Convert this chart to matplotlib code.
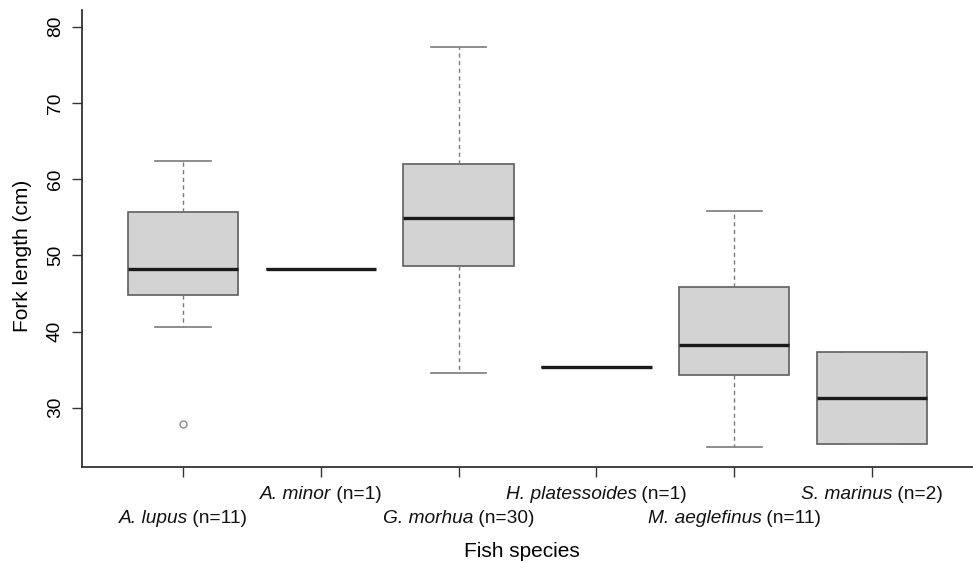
import matplotlib
matplotlib.use("Agg")
import matplotlib.pyplot as plt
from matplotlib.transforms import blended_transform_factory, offset_copy

plt.rcParams['font.family'] = ['Liberation Sans', 'DejaVu Sans']

species = ["A. lupus", "A. minor", "G. morhua", "H. platessoides", "M. aeglefinus", "S. marinus"]
counts = [11, 1, 30, 1, 11, 2]
whislo = [40.6, 48.2, 34.6, 35.3, 24.85, 25.3]
q1 = [44.85, 48.2, 48.65, 35.3, 34.35, 25.3]
med = [48.25, 48.2, 54.9, 35.3, 38.3, 31.35]
q3 = [55.7, 48.2, 62.05, 35.3, 45.9, 37.3]
whishi = [62.4, 48.2, 77.35, 35.3, 55.85, 37.3]
fliers = [[27.9], [], [], [], [], []]

stats = []
for i in range(len(species)):
    stats.append(dict(med=med[i], q1=q1[i], q3=q3[i], whislo=whislo[i],
                      whishi=whishi[i], fliers=fliers[i], label=species[i]))

fig = plt.figure(figsize=(9.73, 5.63), dpi=100)
ax = fig.add_axes([82/973, 1-466.7/563, 1-82/973, (466.7-10)/563])

positions = list(range(1, len(species)+1))
ax.bxp(stats, positions=positions, widths=0.8, patch_artist=True,
       boxprops=dict(facecolor='#d3d3d3', edgecolor='#5e5e5e', linewidth=1.2),
       medianprops=dict(color='#1a1a1a', linewidth=2.4, solid_capstyle='butt'),
       whiskerprops=dict(color='#7a7a7a', linewidth=1.0, linestyle=(0, (3, 2.5))),
       capprops=dict(color='#7a7a7a', linewidth=1.2),
       capwidths=0.4,
       flierprops=dict(marker='o', markersize=5, markerfacecolor='none',
                       markeredgecolor='#8a8a8a', markeredgewidth=1.0))

ax.set_xlim(0.267, 6.733)
ax.set_ylim(22.27, 82.2)
ax.spines['top'].set_visible(False)
ax.spines['right'].set_visible(False)
for s in ['left', 'bottom']:
    ax.spines[s].set_color('#333333')
    ax.spines[s].set_linewidth(1.3)

ax.set_yticks([30, 40, 50, 60, 70, 80])
ax.set_yticklabels(['30', '40', '50', '60', '70', '80'], rotation=90, va='center', fontsize=13.8)
ax.tick_params(axis='y', length=7, width=1.0, color='#333333', pad=6)

ax.set_xticks(positions)
ax.set_xticklabels([''] * len(species))
ax.tick_params(axis='x', length=7, width=1.0, color='#333333')

renderer = fig.canvas.get_renderer()
trans = blended_transform_factory(ax.transData, fig.transFigure)
fs = 13.8
for i, (sp, n) in enumerate(zip(species, counts)):
    y_fig = 1 - (518.3 if i % 2 == 0 else 494.3) / 563
    rest = " (n=" + str(n) + ")"
    t1 = ax.text(positions[i], y_fig, sp, transform=trans, ha='left', va='center',
                 fontsize=fs, style='italic', color='#111111')
    t2 = ax.text(positions[i], y_fig, rest, transform=trans, ha='left', va='center',
                 fontsize=fs, color='#111111')
    w1 = t1.get_window_extent(renderer).width - 1.0
    w2 = t2.get_window_extent(renderer).width
    total = w1 + w2
    t1.set_transform(offset_copy(trans, fig=fig, x=-total/2, units='dots'))
    t2.set_transform(offset_copy(trans, fig=fig, x=-total/2 + w1, units='dots'))

fig.text(522/973, 1 - 551.7/563, "Fish species", ha='center', va='center', fontsize=15)
fig.text(23/973, 1 - 256/563, "Fork length (cm)", rotation=90, ha='center', va='center', fontsize=15)

fig.savefig("out.png", dpi=100)
